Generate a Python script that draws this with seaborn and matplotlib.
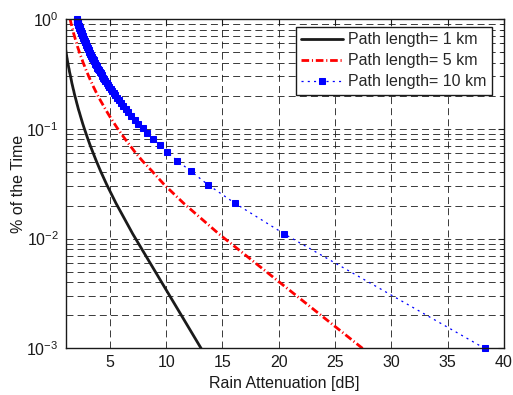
import numpy as np
import pandas as pd
import matplotlib
matplotlib.use("Agg")
import matplotlib.pyplot as plt
import seaborn as sns
from matplotlib.ticker import LogLocator, FixedLocator, NullFormatter

# ---- data ----
percent_time = [
    0.001, 0.011, 0.021, 0.031, 0.041, 0.051, 0.061, 0.071, 0.081, 0.091,
    0.101, 0.111, 0.121, 0.131, 0.141, 0.151, 0.161, 0.171, 0.181, 0.191,
    0.201, 0.211, 0.221, 0.231, 0.241, 0.251, 0.261, 0.271, 0.281, 0.291,
    0.301, 0.311, 0.321, 0.331, 0.341, 0.351, 0.361, 0.371, 0.381, 0.391,
    0.401, 0.411, 0.421, 0.431, 0.441, 0.451, 0.461, 0.471, 0.481, 0.491,
    0.501, 0.511, 0.521, 0.531, 0.541, 0.551, 0.561, 0.571, 0.581, 0.591,
    0.601, 0.611, 0.621, 0.631, 0.641, 0.651, 0.661, 0.671, 0.681, 0.691,
    0.701, 0.711, 0.721, 0.731, 0.741, 0.751, 0.761, 0.771, 0.781, 0.791,
    0.801, 0.811, 0.821, 0.831, 0.841, 0.851, 0.861, 0.871, 0.881, 0.891,
    0.901, 0.911, 0.921, 0.931, 0.941, 0.951, 0.961, 0.971, 0.981, 0.991,
]

atten_1km = [
    13.1, 7.03, 5.53, 4.71, 4.17, 3.78, 3.48, 3.23, 3.03, 2.86,
    2.71, 2.58, 2.47, 2.37, 2.28, 2.19, 2.12, 2.05, 1.99, 1.93,
    1.87, 1.82, 1.78, 1.73, 1.69, 1.65, 1.61, 1.58, 1.55, 1.52,
    1.49, 1.46, 1.43, 1.40, 1.38, 1.36, 1.33, 1.31, 1.29, 1.27,
    1.25, 1.23, 1.21, 1.20, 1.18, 1.16, 1.15, 1.13, 1.12, 1.10,
    1.09, 1.08, 1.06, 1.05, 1.04, 1.03, 1.01, 1.00, 0.991, 0.98,
    0.97, 0.96, 0.95, 0.94, 0.93, 0.921, 0.912, 0.903, 0.895, 0.886,
    0.878, 0.87, 0.862, 0.854, 0.847, 0.839, 0.832, 0.825, 0.818, 0.811,
    0.804, 0.798, 0.791, 0.785, 0.779, 0.772, 0.766, 0.761, 0.755, 0.749,
    0.744, 0.738, 0.733, 0.727, 0.722, 0.717, 0.712, 0.707, 0.702, 0.697,
]

atten_5km = [
    27.45, 14.69, 11.54, 9.82, 8.75, 7.88, 7.24, 6.75, 6.33, 5.97,
    5.66, 5.40, 5.16, 4.95, 4.76, 4.59, 4.43, 4.29, 4.15, 4.03,
    3.91, 3.81, 3.71, 3.62, 3.53, 3.45, 3.38, 3.30, 3.23, 3.17,
    3.10, 3.05, 2.99, 2.93, 2.88, 2.83, 2.78, 2.74, 2.70, 2.65,
    2.61, 2.57, 2.54, 2.50, 2.47, 2.43, 2.39, 2.37, 2.34, 2.30,
    2.27, 2.24, 2.22, 2.19, 2.16, 2.14, 2.11, 2.09, 2.07, 2.05,
    2.03, 2.01, 1.98, 1.96, 1.94, 1.92, 1.91, 1.89, 1.87, 1.85,
    1.83, 1.82, 1.80, 1.78, 1.77, 1.75, 1.74, 1.72, 1.71, 1.69,
    1.68, 1.67, 1.65, 1.64, 1.63, 1.61, 1.60, 1.59, 1.58, 1.56,
    1.55, 1.54, 1.53, 1.52, 1.51, 1.50, 1.49, 1.48, 1.47, 1.46,
]

atten_10km = [
    38.3, 20.5, 16.1, 13.7, 12.2, 11.0, 10.1, 9.42, 8.83, 8.33,
    7.90, 7.53, 7.20, 6.90, 6.64, 6.40, 6.18, 5.98, 5.79, 5.62,
    5.46, 5.32, 5.18, 5.05, 4.93, 4.81, 4.71, 4.60, 4.51, 4.42,
    4.33, 4.25, 4.17, 4.09, 4.02, 3.95, 3.88, 3.82, 3.76, 3.70,
    3.64, 3.59, 3.54, 3.49, 3.44, 3.39, 3.34, 3.30, 3.26, 3.21,
    3.17, 3.13, 3.10, 3.06, 3.02, 2.99, 2.95, 2.92, 2.89, 2.86,
    2.83, 2.80, 2.768, 2.740, 2.712, 2.685, 2.659, 2.633, 2.608, 2.583,
    2.559, 2.536, 2.512, 2.490, 2.468, 2.446, 2.425, 2.404, 2.384, 2.364,
    2.344, 2.325, 2.306, 2.288, 2.270, 2.252, 2.234, 2.217, 2.200, 2.183,
    2.167, 2.151, 2.136, 2.120, 2.105, 2.090, 2.075, 2.061, 2.046, 2.033,
]

series_labels = ['Path length= 1 km', 'Path length= 5 km', 'Path length= 10 km']
x_ticks = [5, 10, 15, 20, 25, 30, 35, 40]

# ---- style ----
sns.set_theme(style="white")
plt.rcParams['font.family'] = ['Liberation Sans', 'DejaVu Sans']
plt.rcParams['mathtext.fontset'] = 'custom'
plt.rcParams['mathtext.rm'] = 'Liberation Sans'
plt.rcParams['lines.scale_dashes'] = False

fig = plt.figure(figsize=(5.13, 3.95), dpi=100)
ax = fig.add_axes([0.128, 0.118, 0.854, 0.834])
ax.set_yscale('log')

sns.lineplot(x=atten_1km, y=percent_time, ax=ax, color='k', lw=2, sort=False,
             estimator=None, label=series_labels[0])
sns.lineplot(x=atten_5km, y=percent_time, ax=ax, color='red', lw=2, sort=False,
             estimator=None, linestyle=(0, (5.5, 2, 0.8, 2)), label=series_labels[1])
sns.lineplot(x=atten_10km, y=percent_time, ax=ax, color=(0, 0, 1), lw=0.9, sort=False,
             estimator=None, linestyle=(0, (1.5, 3)), marker='s', markersize=4.3,
             mfc=(0, 0, 1), mec=(0, 0, 1), clip_on=False, label=series_labels[2])

ax.set_xlim(1.06, 40)
ax.set_ylim(1e-3, 1)
ax.xaxis.set_major_locator(FixedLocator(x_ticks))
ax.yaxis.set_major_locator(LogLocator(base=10))
ax.yaxis.set_minor_locator(LogLocator(base=10, subs=np.arange(2, 10)))
ax.yaxis.set_minor_formatter(NullFormatter())
ax.grid(which='major', axis='both', color='k', lw=0.6, linestyle=(0, (5, 3)))
ax.grid(which='minor', axis='y', color='k', lw=0.6, linestyle=(0, (5, 3)))
ax.set_axisbelow(True)
ax.tick_params(which='both', direction='in', top=True, right=True, labelsize=11.5, colors='k')
ax.tick_params(which='major', length=4, width=0.8, pad=5)
ax.tick_params(which='minor', length=2.5, width=0.6)
for s in ax.spines.values():
    s.set_color('k')
    s.set_linewidth(1.0)

ax.set_xlabel('Rain Attenuation [dB]', fontsize=11.5, color='k')
ax.set_ylabel('% of the Time', fontsize=11.5, color='k', labelpad=0.5)

leg = ax.legend(loc='upper right', bbox_to_anchor=(492.3 / 513, 1 - 26.7 / 395),
                bbox_transform=fig.transFigure, borderaxespad=0, fancybox=False,
                edgecolor='k', framealpha=1, fontsize=11.5, handlelength=2.6,
                labelspacing=0.38, borderpad=0.35, handletextpad=0.35)
leg.get_frame().set_linewidth(1.0)

fig.savefig('out.png', dpi=100)
